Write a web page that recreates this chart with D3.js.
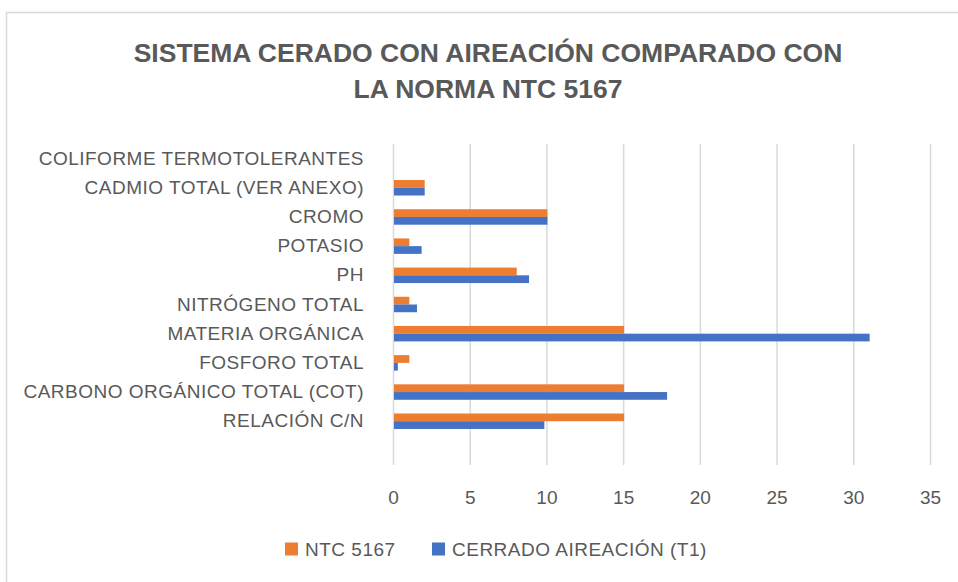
<!DOCTYPE html>
<html>
<head>
<meta charset="utf-8">
<script src="https://cdnjs.cloudflare.com/ajax/libs/d3/7.8.5/d3.min.js"></script>
<style>
  html, body { margin: 0; padding: 0; background: #fff; }
  svg { display: block; font-family: "Liberation Sans", Arial, sans-serif; }
</style>
</head>
<body>
<div id="chart"></div>
<script>
// categories from top to bottom (last one is an empty row)
const categories = [
  "COLIFORME TERMOTOLERANTES",
  "CADMIO TOTAL (VER ANEXO)",
  "CROMO",
  "POTASIO",
  "PH",
  "NITRÓGENO TOTAL",
  "MATERIA ORGÁNICA",
  "FOSFORO TOTAL",
  "CARBONO ORGÁNICO TOTAL (COT)",
  "RELACIÓN C/N",
  ""
];
const ntc5167 = [null, 2, 10, 1, 8, 1, 15, 1, 15, 15, null];
const cerradoT1 = [null, 2, 10, 1.8, 8.8, 1.5, 31, 0.25, 17.8, 9.8, null];
const seriesNames = ["NTC 5167", "CERRADO AIREACIÓN (T1)"];
const seriesColors = ["#ED7D31", "#4472C4"];
const xTicks = [0, 5, 10, 15, 20, 25, 30, 35];
const titleLines = ["SISTEMA CERADO CON AIREACIÓN COMPARADO CON", "LA NORMA NTC 5167"];

const width = 958, height = 582;
const plotLeft = 393, plotRight = 930, plotTop = 144, plotBottom = 465;
const textColor = "#595959";

const svg = d3.select("#chart").append("svg")
  .attr("width", width)
  .attr("height", height);

// chart frame
svg.append("rect")
  .attr("x", 6.5).attr("y", 12.5)
  .attr("width", 1000).attr("height", 1000)
  .attr("fill", "#fff")
  .attr("stroke", "#d9d9d9")
  .attr("stroke-width", 1.5);

// title
svg.append("g").selectAll("text")
  .data(titleLines)
  .join("text")
  .attr("x", 488)
  .attr("y", (d, i) => 62 + i * 36)
  .attr("text-anchor", "middle")
  .attr("font-size", 26.5)
  .attr("font-weight", "bold")
  .attr("fill", textColor)
  .text(d => d);

const x = d3.scaleLinear().domain([0, 35]).range([plotLeft, plotRight]);
const y = d3.scaleBand()
  .domain(categories)
  .range([plotTop, plotBottom])
  .paddingInner(0.47)
  .paddingOuter(0.235);
const ySub = d3.scaleBand()
  .domain(seriesNames)
  .range([0, y.bandwidth()]);

// gridlines + tick labels
const xAxis = svg.append("g")
  .attr("transform", `translate(0,${plotBottom})`)
  .call(d3.axisBottom(x).tickValues(xTicks).tickSize(-(plotBottom - plotTop)).tickPadding(26));
xAxis.select(".domain").remove();
xAxis.selectAll("line").attr("stroke", "#d9d9d9").attr("stroke-width", 1.5);
xAxis.selectAll("text")
  .attr("font-size", 19)
  .attr("fill", textColor)
  .attr("font-family", "Liberation Sans, Arial, sans-serif");

// category labels
const yAxis = svg.append("g")
  .attr("transform", `translate(${plotLeft},0)`)
  .call(d3.axisLeft(y).tickSize(0).tickPadding(29));
yAxis.select(".domain").remove();
yAxis.selectAll("text")
  .attr("font-size", 19)
  .attr("letter-spacing", 0.5)
  .attr("fill", textColor)
  .attr("font-family", "Liberation Sans, Arial, sans-serif");

// bars
const rows = categories.map((c, i) => ({ cat: c, vals: [ntc5167[i], cerradoT1[i]] }));
const groups = svg.append("g").selectAll("g")
  .data(rows)
  .join("g")
  .attr("transform", d => `translate(0,${y(d.cat)})`);
groups.selectAll("rect")
  .data(d => d.vals.map((v, j) => ({ name: seriesNames[j], v, color: seriesColors[j] })).filter(d => d.v != null))
  .join("rect")
  .attr("x", x(0) + 1)
  .attr("y", d => ySub(d.name))
  .attr("width", d => x(d.v) - x(0))
  .attr("height", ySub.bandwidth())
  .attr("fill", d => d.color);

// legend
const legendX = [285, 432];
const legend = svg.append("g").selectAll("g")
  .data(seriesNames)
  .join("g")
  .attr("transform", (d, i) => `translate(${legendX[i]},549)`);
legend.append("rect")
  .attr("x", 0).attr("y", -6.5)
  .attr("width", 13).attr("height", 13)
  .attr("fill", (d, i) => seriesColors[i]);
legend.append("text")
  .attr("x", 20).attr("y", 0)
  .attr("dy", "0.35em")
  .attr("font-size", 19)
  .attr("letter-spacing", 0.5)
  .attr("fill", textColor)
  .text(d => d);
</script>
</body>
</html>
